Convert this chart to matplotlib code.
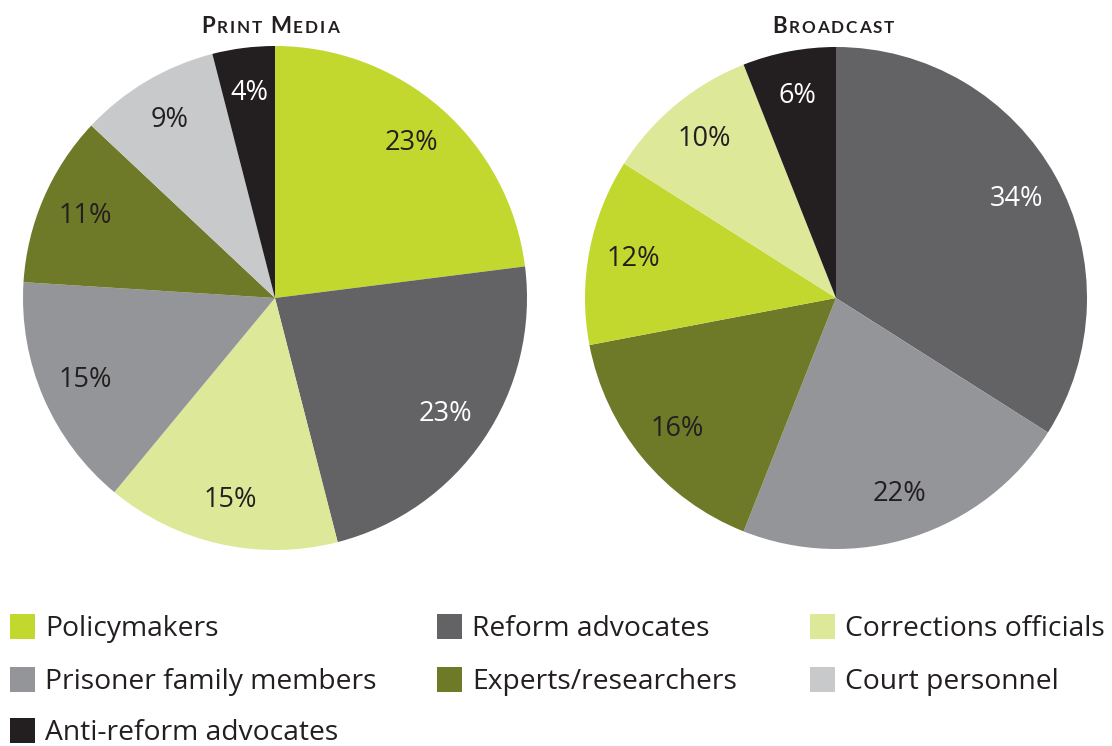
import matplotlib
matplotlib.use("Agg")
import matplotlib.pyplot as plt
from matplotlib.patches import Rectangle

# ---- data ----
categories = ["Policymakers", "Reform advocates", "Corrections officials",
              "Prisoner family members", "Experts/researchers", "Court personnel",
              "Anti-reform advocates"]
colors = {"Policymakers": "#C2D82E", "Reform advocates": "#636365",
          "Corrections officials": "#DDE899", "Prisoner family members": "#939598",
          "Experts/researchers": "#6E7A28", "Court personnel": "#C8C9CB",
          "Anti-reform advocates": "#231F20"}

print_labels = ["Policymakers", "Reform advocates", "Corrections officials",
                "Prisoner family members", "Experts/researchers", "Court personnel",
                "Anti-reform advocates"]
print_values = [23, 23, 15, 15, 11, 9, 4]

broadcast_labels = ["Reform advocates", "Prisoner family members", "Experts/researchers",
                    "Policymakers", "Corrections officials", "Anti-reform advocates"]
broadcast_values = [34, 22, 16, 12, 10, 6]

white_text = {"Reform advocates", "Anti-reform advocates"}
DARK = "#231F20"
FONT = "Open Sans"
TITLE_FONT = "Lato"

W, H = 1112, 746
fig = plt.figure(figsize=(W / 100, H / 100), dpi=100)
ax = fig.add_axes([0, 0, 1, 1])


def draw_pie(labels, values, cx, cy, r):
    wedges, texts, autotexts = ax.pie(
        values, colors=[colors[l] for l in labels], startangle=90, counterclock=False,
        center=(cx, H - cy), radius=r, autopct=lambda p: f"{p:.0f}%",
        pctdistance=0.82, wedgeprops=dict(linewidth=0), frame=True)
    for lab, t in zip(labels, autotexts):
        t.set_color("white" if lab in white_text else DARK)
        t.set_fontsize(19.5)
        t.set_fontfamily(FONT)


draw_pie(print_labels, print_values, 275, 298, 252)
draw_pie(broadcast_labels, broadcast_values, 836, 298, 251)
ax.set_xlim(0, W)
ax.set_ylim(0, H)
ax.set_aspect("equal")
ax.axis("off")

# ---- small-caps titles ----
renderer = fig.canvas.get_renderer()


def small_caps(title, cx, baseline_y, big=16, small=12.3, track=1.9):
    pieces = []
    for word_i, word in enumerate(title.split(" ")):
        if word_i > 0:
            pieces.append(None)
        for ch in word:
            size = big if ch.isupper() else small
            t = ax.text(0, H - baseline_y, ch.upper(), fontsize=size,
                        fontfamily=TITLE_FONT, fontweight="bold", color=DARK,
                        va="baseline", ha="left")
            pieces.append(t)
    x = 0.0
    xs = []
    for t in pieces:
        if t is None:
            xs.append(None)
            x += 6
            continue
        xs.append(x)
        x += t.get_window_extent(renderer).width + track
    total = x - track
    for t, px in zip(pieces, xs):
        if t is not None:
            t.set_x(cx - total / 2 + px)


small_caps("Print Media", 270, 33)
small_caps("Broadcast", 833, 33)

# ---- legend ----
legend_cols = [10, 437, 810]
legend_rows = [614, 667, 718]
sq = 25
for i, lab in enumerate(categories):
    col = i % 3
    row = i // 3
    x0 = legend_cols[col]
    y0 = legend_rows[row]
    ax.add_patch(Rectangle((x0, H - y0 - sq), sq, sq, facecolor=colors[lab],
                           edgecolor="none"))
    ax.text(x0 + sq + 10, H - y0 - 22, lab, fontsize=20.3, fontfamily=FONT,
            color=DARK, va="baseline", ha="left")

fig.savefig("out.png", dpi=100)
